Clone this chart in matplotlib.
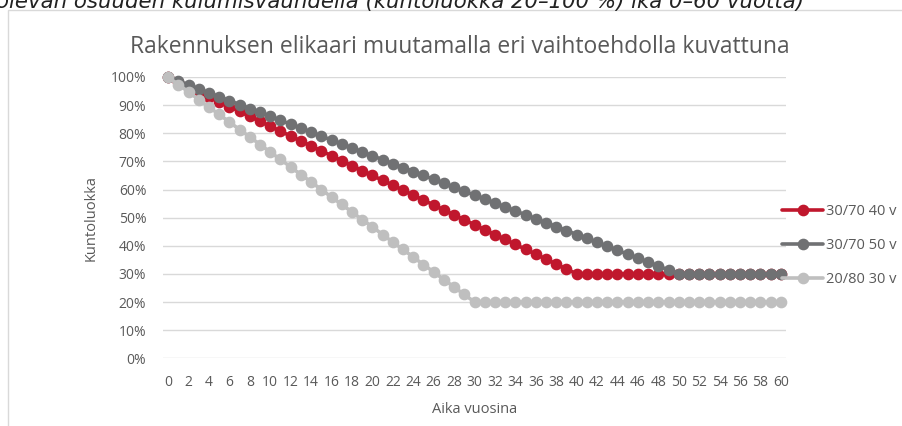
import matplotlib
matplotlib.use("Agg")
import matplotlib.pyplot as plt
from matplotlib.patches import Rectangle
from matplotlib.ticker import FuncFormatter

plt.rcParams['font.family'] = ['Open Sans', 'DejaVu Sans']

# vuodet 0..60
years = list(range(61))

# 30/70, elikaari 40 v
s_40 = [100, 98.25, 96.5, 94.75, 93, 91.25, 89.5, 87.75, 86, 84.25,
        82.5, 80.75, 79, 77.25, 75.5, 73.75, 72, 70.25, 68.5, 66.75,
        65, 63.25, 61.5, 59.75, 58, 56.25, 54.5, 52.75, 51, 49.25,
        47.5, 45.75, 44, 42.25, 40.5, 38.75, 37, 35.25, 33.5, 31.75,
        30, 30, 30, 30, 30, 30, 30, 30, 30, 30,
        30, 30, 30, 30, 30, 30, 30, 30, 30, 30, 30]

# 30/70, elikaari 50 v
s_50 = [100, 98.6, 97.2, 95.8, 94.4, 93, 91.6, 90.2, 88.8, 87.4,
        86, 84.6, 83.2, 81.8, 80.4, 79, 77.6, 76.2, 74.8, 73.4,
        72, 70.6, 69.2, 67.8, 66.4, 65, 63.6, 62.2, 60.8, 59.4,
        58, 56.6, 55.2, 53.8, 52.4, 51, 49.6, 48.2, 46.8, 45.4,
        44, 42.6, 41.2, 39.8, 38.4, 37, 35.6, 34.2, 32.8, 31.4,
        30, 30, 30, 30, 30, 30, 30, 30, 30, 30, 30]

# 20/80, elikaari 30 v
s_30 = [100, 97.3, 94.7, 92, 89.3, 86.7, 84, 81.3, 78.7, 76,
        73.3, 70.7, 68, 65.3, 62.7, 60, 57.3, 54.7, 52, 49.3,
        46.7, 44, 41.3, 38.7, 36, 33.3, 30.7, 28, 25.3, 22.7,
        20, 20, 20, 20, 20, 20, 20, 20, 20, 20,
        20, 20, 20, 20, 20, 20, 20, 20, 20, 20,
        20, 20, 20, 20, 20, 20, 20, 20, 20, 20, 20]

series = [("30/70 40 v", s_40, "#C0172D"),
          ("30/70 50 v", s_50, "#707173"),
          ("20/80 30 v", s_30, "#BFBFBF")]

txt = "#595959"

fig = plt.figure(figsize=(9.02, 4.26), dpi=100)

# yläpuolelta leikkautuva teksti (kuvakaappauksessa näkyy vain alaosa)
fig.text(-0.004, 1 - 8 / 426, "olevan osuuden kulumisvauhdella (kuntoluokka 20–100 %) ikä 0–60 vuotta)",
         fontsize=15.3, style='italic', color='#222222', ha='left', va='baseline',
         family=['DejaVu Sans'])

# kaavion reunus
fig.patches.append(Rectangle((8 / 902, -0.1), 1.1, 1 - 10 / 426 + 0.1, transform=fig.transFigure,
                             fill=False, edgecolor='#D9D9D9', lw=1.0, zorder=0))

ax = fig.add_axes([163 / 902, 1 - 358.3 / 426, (786 - 163) / 902, (358.3 - 77) / 426])

for name, vals, col in series:
    ax.plot(years, vals, color=col, lw=2.6, marker='o', ms=7.4, label=name,
            solid_capstyle='round', clip_on=False)

ax.set_xlim(-0.5, 60.5)
ax.set_ylim(0, 100)
ax.set_xticks(range(0, 61, 2))
ax.set_yticks(range(0, 101, 10))
ax.yaxis.set_major_formatter(FuncFormatter(lambda v, p: f"{int(v)}%"))
ax.grid(axis='y', color='#D9D9D9', lw=1)
ax.set_axisbelow(True)
for sp in ax.spines.values():
    sp.set_visible(False)
ax.tick_params(length=0, labelsize=10, colors=txt)
ax.tick_params(axis='x', pad=12)
ax.tick_params(axis='y', pad=12)

ax.set_xlabel("Aika vuosina", fontsize=10.5, color=txt, labelpad=9)
ax.set_ylabel("Kuntoluokka", fontsize=10.5, color=txt, labelpad=9)
ax.set_title("Rakennuksen elikaari muutamalla eri vaihtoehdolla kuvattuna",
             fontsize=16.5, color=txt, pad=17, x=0.477)

leg = ax.legend(loc='center left', bbox_to_anchor=(0.985, 0.40), frameon=False,
                fontsize=10.5, handlelength=2.8, handletextpad=0.2, labelspacing=1.3,
                borderaxespad=0)
for t in leg.get_texts():
    t.set_color(txt)

fig.savefig("out.png", dpi=100)
